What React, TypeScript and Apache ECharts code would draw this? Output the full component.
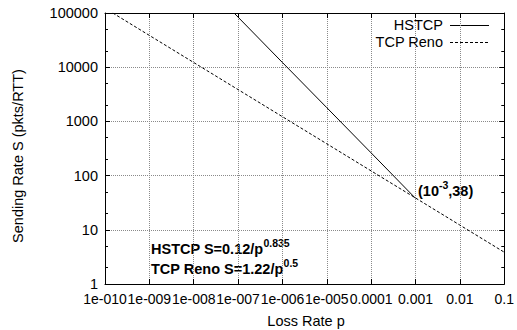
import React, { useEffect, useRef } from "react";
import * as echarts from "echarts";

const xTickLabels = ["1e-010", "1e-009", "1e-008", "1e-007", "1e-006", "1e-005", "0.0001", "0.001", "0.01", "0.1"];
const yTickLabels = ["1", "10", "100", "1000", "10000", "100000"];
const yMinorTicks = [2, 5, 20, 50, 200, 500, 2000, 5000, 20000, 50000];

const hstcpP = [8.1e-8, 1e-6, 1e-5, 1e-4, 1e-3];
const hstcpS = [100000, 12200, 1790, 262, 38];
const renoP = [1.5e-10, 1e-9, 1e-8, 1e-7, 1e-6, 1e-5, 1e-4, 1e-3, 1e-2, 1e-1];
const renoS = [100000, 38600, 12200, 3860, 1220, 386, 122, 38.6, 12.2, 3.86];

const seriesNames = ["HSTCP", "TCP Reno"];

const FONT = "'Liberation Sans', Arial, Helvetica, sans-serif";
const FS = 14.5;

export default function App() {
  const ref = useRef<HTMLDivElement>(null);
  useEffect(() => {
    if (!ref.current) return;
    const chart = echarts.init(ref.current, null, { renderer: "svg" });
    const tickStyle = { show: true, inside: true, length: 5, lineStyle: { color: "#000", width: 1 } };
    const axisLine = { show: true, lineStyle: { color: "#000", width: 1 } };
    const split = { show: true, lineStyle: { color: "#8a8a8a", type: [1, 1] as any, width: 1 } };
    const common = { min: 1e-10, max: 0.1, logBase: 10, interval: 1 };
    const commonY = { min: 1, max: 100000, logBase: 10, interval: 1 };
    const bold = { fontFamily: FONT, fontWeight: "bold", fontSize: 14.5, fill: "#000" };
    const sup = { fontFamily: FONT, fontWeight: "bold", fontSize: 10.5, fill: "#000" };
    const dash = [3, 2];
    chart.setOption({
      animation: false,
      backgroundColor: "#fff",
      textStyle: { fontFamily: FONT },
      grid: { left: 105, right: 10, top: 13, bottom: 46, containLabel: false },
      xAxis: [
        {
          type: "log",
          ...common,
          position: "bottom",
          axisLine,
          axisTick: tickStyle,
          splitLine: split,
          axisLabel: {
            show: true,
            margin: 8,
            color: "#000",
            fontSize: 14,
            fontFamily: FONT,
            hideOverlap: false,
            showMinLabel: true,
            showMaxLabel: true,
            formatter: (v: number) => xTickLabels[Math.round(Math.log10(v)) + 10],
          },
        },
        {
          type: "log",
          ...common,
          position: "top",
          axisLine,
          axisTick: tickStyle,
          splitLine: { show: false },
          axisLabel: { show: false },
        },
      ],
      yAxis: [
        {
          type: "log",
          ...commonY,
          position: "left",
          axisLine,
          axisTick: tickStyle,
          splitLine: split,
          axisLabel: {
            show: true,
            margin: 7,
            color: "#000",
            fontSize: FS,
            fontFamily: FONT,
            formatter: (v: number) => yTickLabels[Math.round(Math.log10(v))],
          },
        },
        {
          type: "log",
          ...commonY,
          position: "right",
          axisLine,
          axisTick: tickStyle,
          splitLine: { show: false },
          axisLabel: { show: false },
        },
        {
          type: "log",
          ...commonY,
          position: "left",
          axisLine: { show: false },
          axisTick: { show: true, inside: true, length: 3, customValues: yMinorTicks, lineStyle: { color: "#000" } },
          splitLine: { show: false },
          axisLabel: { show: false },
        },
        {
          type: "log",
          ...commonY,
          position: "right",
          axisLine: { show: false },
          axisTick: { show: true, inside: true, length: 3, customValues: yMinorTicks, lineStyle: { color: "#000" } },
          splitLine: { show: false },
          axisLabel: { show: false },
        },
      ],
      series: [
        {
          name: seriesNames[0],
          type: "line",
          symbol: "none",
          clip: true,
          lineStyle: { color: "#000", width: 1 },
          itemStyle: { color: "#000" },
          data: hstcpP.map((p, i) => [p, hstcpS[i]]),
        },
        {
          name: seriesNames[1],
          type: "line",
          symbol: "none",
          clip: true,
          lineStyle: { color: "#000", width: 1, type: dash },
          itemStyle: { color: "#000" },
          data: renoP.map((p, i) => [p, renoS[i]]),
        },
      ],
      graphic: [
        {
          type: "text",
          x: 18,
          y: 156,
          rotation: Math.PI / 2,
          style: { text: "Sending Rate S (pkts/RTT)", fontFamily: FONT, fontSize: FS, fill: "#000", align: "center", verticalAlign: "middle" },
        },
        {
          type: "text",
          x: 306,
          y: 321,
          style: { text: "Loss Rate p", fontFamily: FONT, fontSize: FS, fill: "#000", align: "center", verticalAlign: "middle" },
        },
        // legend
        {
          type: "text",
          x: 443,
          y: 25,
          style: { text: seriesNames[0], fontFamily: FONT, fontSize: FS, fill: "#000", align: "right", verticalAlign: "middle" },
        },
        {
          type: "line",
          shape: { x1: 450, y1: 25.5, x2: 489, y2: 25.5 },
          style: { stroke: "#000", lineWidth: 1 },
        },
        {
          type: "text",
          x: 443,
          y: 42,
          style: { text: seriesNames[1], fontFamily: FONT, fontSize: FS, fill: "#000", align: "right", verticalAlign: "middle" },
        },
        {
          type: "line",
          shape: { x1: 450, y1: 42.5, x2: 489, y2: 42.5 },
          style: { stroke: "#000", lineWidth: 1, lineDash: dash },
        },
        // annotations
        {
          type: "text",
          x: 151,
          y: 247,
          style: {
            text: "{b|HSTCP S=0.12/p}{s|0.835}",
            align: "left",
            verticalAlign: "middle",
            rich: { b: { ...bold, verticalAlign: "bottom" }, s: { ...sup, verticalAlign: "bottom", padding: [0, 0, 8, 0] } },
          },
        },
        {
          type: "text",
          x: 151,
          y: 267,
          style: {
            text: "{b|TCP Reno S=1.22/p}{s|0.5}",
            align: "left",
            verticalAlign: "middle",
            rich: { b: { ...bold, verticalAlign: "bottom" }, s: { ...sup, verticalAlign: "bottom", padding: [0, 0, 8, 0] } },
          },
        },
        {
          type: "text",
          x: 418,
          y: 189,
          style: {
            text: "{b|(10}{s|-3}{b|,38)}",
            align: "left",
            verticalAlign: "middle",
            rich: { b: { ...bold, verticalAlign: "bottom" }, s: { ...sup, verticalAlign: "bottom", padding: [0, 0, 8, 0] } },
          },
        },
      ],
    });
    return () => chart.dispose();
  }, []);
  return <div ref={ref} style={{ width: 517, height: 330, position: "absolute", left: 0, top: 0 }} />;
}
